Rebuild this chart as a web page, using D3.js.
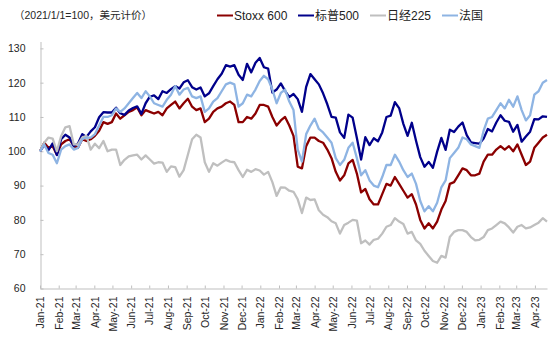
<!DOCTYPE html>
<html>
<head>
<meta charset="utf-8">
<script src="https://cdn.jsdelivr.net/npm/d3@7"></script>
<style>
  body { margin: 0; background: #fff; }
  text { font-family: "Liberation Sans", Arial, "Noto Sans CJK SC", sans-serif; }
</style>
</head>
<body>
<svg id="chart" width="550" height="340"></svg>
<script>
// Index levels, 2021/1/1 = 100, weekly (Friday) observations in USD terms
const seriesNames = ["Stoxx 600", "标普500", "日经225", "法国"];

const stoxx600 = [100,
  102.5,101.0,101.5,99.0,102.0,103.0,103.5,101.5,101.0,103.5,103.0,103.5,
  104.5,106.0,108.5,108.0,108.5,111.0,109.5,110.5,111.5,112.0,112.8,110.5,
  112.0,111.5,111.0,111.5,110.5,112.5,113.5,114.5,112.5,114.0,115.3,113.0,
  112.0,112.5,108.5,109.5,111.5,112.5,113.0,114.0,114.5,113.5,108.5,108.5,
  110.0,109.5,111.0,113.5,
  113.5,113.0,110.0,107.5,109.0,110.0,107.5,104.5,95.5,95.0,101.5,104.0,
  104.0,103.0,102.5,100.5,98.0,94.0,91.5,93.0,96.5,97.5,93.5,88.0,
  89.0,86.0,84.5,84.5,87.5,90.5,90.0,92.5,90.5,88.5,86.5,87.5,
  84.5,80.0,77.5,79.0,77.5,79.5,83.0,85.5,90.5,91.0,93.0,95.0,
  94.5,93.0,93.0,93.5,
  97.0,99.0,99.0,100.5,101.5,100.5,101.5,100.0,102.0,99.0,96.0,97.0,
  101.0,102.5,104.0,104.8];

const sp500 = [100,
  101.8,100.3,102.3,98.9,103.5,104.8,104.0,101.5,102.3,105.0,104.2,105.8,
  107.0,109.9,111.4,111.3,111.3,112.7,111.1,110.6,111.9,112.6,113.1,110.9,
  114.0,115.9,116.3,115.2,117.5,117.0,118.1,119.0,118.3,120.1,120.7,118.7,
  118.0,118.6,116.0,116.9,119.0,121.0,122.6,125.1,124.7,125.1,122.3,120.8,
  125.5,123.0,125.8,127.2,
  124.5,124.1,117.1,118.0,119.8,117.6,115.8,116.7,115.2,111.5,118.8,122.5,
  121.0,119.5,116.9,113.7,110.0,109.8,105.5,103.9,110.7,109.8,103.9,97.6,
  104.1,101.8,103.8,102.9,105.5,110.0,110.4,114.3,112.6,108.0,104.5,108.3,
  103.1,98.3,95.5,96.9,95.2,99.9,103.9,100.4,106.3,105.6,107.2,108.4,
  104.7,102.6,102.4,102.2,
  103.7,106.5,105.8,108.4,110.5,108.9,108.6,105.7,107.7,102.8,104.3,105.7,
  109.4,109.3,110.2,110.0];

const nikkei225 = [100,
  102.5,104.0,103.7,100.0,104.4,107.0,107.3,102.0,102.0,104.0,104.5,100.5,
  102.2,100.9,103.0,100.0,100.5,100.5,96.0,97.5,98.5,98.8,99.0,97.6,
  98.8,97.6,96.4,96.8,96.7,94.0,95.6,95.4,92.6,94.5,99.0,103.5,
  104.8,104.0,96.8,94.0,96.5,95.8,96.7,97.5,97.0,96.8,94.5,92.5,
  94.6,94.0,94.8,94.4,
  93.2,94.0,91.0,87.0,89.5,89.4,88.5,88.2,86.0,82.0,86.5,85.8,
  86.0,82.8,81.5,80.8,79.6,79.0,76.0,78.5,79.2,80.0,79.8,73.2,
  74.0,72.8,74.2,74.5,76.0,78.0,78.5,80.5,79.5,78.8,76.0,76.5,
  74.0,73.0,71.0,69.5,68.0,67.5,69.5,69.0,75.0,76.5,77.0,77.0,
  76.5,75.0,74.0,74.2,
  75.0,77.0,77.5,78.5,79.5,79.0,77.8,76.3,78.0,78.5,77.5,77.8,
  78.5,79.2,80.5,79.5];

const france = [100,
  102.0,99.5,99.0,96.5,100.5,101.5,102.0,100.5,101.0,103.5,104.0,104.0,
  105.0,107.5,110.0,110.0,110.5,112.5,111.5,112.5,114.0,115.5,117.0,115.5,
  117.5,116.0,114.0,113.5,113.0,115.0,116.5,119.0,116.5,118.0,118.5,116.0,
  115.5,116.0,111.5,112.5,114.5,115.5,117.5,119.5,120.0,119.5,113.0,114.0,
  116.5,116.0,118.0,120.5,
  122.0,121.0,118.0,114.0,117.0,118.0,114.5,112.0,100.5,97.0,105.0,107.5,
  109.5,106.5,105.5,104.0,102.5,98.0,96.0,97.5,101.0,102.5,98.0,93.0,
  94.5,91.5,90.0,89.5,92.5,96.0,96.0,99.0,97.0,94.5,92.5,93.5,
  90.5,85.5,82.5,84.0,82.5,85.0,89.5,91.5,98.0,99.5,101.0,104.0,
  103.5,102.0,101.5,101.0,
  106.0,109.5,110.0,112.0,114.0,112.5,115.0,113.0,116.0,112.0,109.0,110.5,
  116.5,117.5,120.0,120.8];

const seriesValues = [stoxx600, sp500, nikkei225, france];

// Month tick labels along the date axis
const monthLabels = ["Jan-21","Feb-21","Mar-21","Apr-21","May-21","Jun-21","Jul-21",
  "Aug-21","Sep-21","Oct-21","Nov-21","Dec-21","Jan-22","Feb-22","Mar-22","Apr-22",
  "May-22","Jun-22","Jul-22","Aug-22","Sep-22","Oct-22","Nov-22","Dec-22","Jan-23",
  "Feb-23","Mar-23","Apr-23"];
const yTicks = [60, 70, 80, 90, 100, 110, 120, 130];
const titleText = "（2021/1/1=100，美元计价）";

// Weekly observation dates (Fridays) and month starts
const weekDates = d3.timeFriday.range(new Date(2021, 0, 1), new Date(2023, 3, 22));
const monthDates = d3.timeMonth.range(new Date(2021, 0, 1), new Date(2023, 3, 2));

const colors = ["#8B0000", "#00008B", "#BFBFBF", "#8EB4E3"];
const svg = d3.select("#chart");
svg.append("rect").attr("width", 550).attr("height", 340).attr("fill", "#fff");

const x = d3.scaleTime()
  .domain([new Date(2021, 0, 1), new Date(2023, 3, 21)])
  .range([40, 547]);
const y = d3.scaleLinear().domain([60, 132]).range([288.5, 41.5]);

// Y axis
const yAxis = d3.axisLeft(y).tickValues(yTicks).tickSizeInner(-3).tickSizeOuter(0).tickPadding(15);
const gy = svg.append("g").attr("transform", "translate(40.5,0)").call(yAxis);
gy.select(".domain").attr("stroke", "#BFBFBF");
gy.selectAll(".tick line").attr("stroke", "#BFBFBF");
gy.selectAll(".tick text").attr("fill", "#262626").style("font-size", "10.5px")
  .style("font-family", '"Liberation Sans", Arial, sans-serif');

// X axis with rotated month labels
const xAxis = d3.axisBottom(x).tickValues(monthDates).tickSizeInner(-3).tickSizeOuter(0)
  .tickFormat((d, i) => monthLabels[i]);
const gx = svg.append("g").attr("transform", "translate(0,288.5)").call(xAxis);
gx.select(".domain").attr("stroke", "#BFBFBF");
gx.selectAll(".tick line").attr("stroke", "#BFBFBF");
gx.selectAll(".tick text")
  .attr("transform", "rotate(-90)")
  .attr("x", -8).attr("y", 0).attr("dy", "0.35em")
  .style("text-anchor", "end")
  .attr("fill", "#262626").style("font-size", "10.5px")
  .style("font-family", '"Liberation Sans", Arial, sans-serif');

// Series lines
const line = d3.line().x((d, i) => x(weekDates[i])).y(d => y(d));
svg.append("g").selectAll("path")
  .data(seriesValues)
  .join("path")
  .attr("d", d => line(d))
  .attr("fill", "none")
  .attr("stroke", (d, i) => colors[i])
  .attr("stroke-width", 2.3)
  .attr("stroke-linejoin", "round");

// Unit note
svg.append("text").attr("x", 14).attr("y", 19).text(titleText)
  .attr("fill", "#262626").style("font-size", "10.5px");

// Legend
const legendX = [217, 298, 370, 442];
const lg = svg.append("g").selectAll("g").data(seriesNames).join("g")
  .attr("transform", (d, i) => `translate(${legendX[i]},15.5)`);
lg.append("line").attr("x1", 0).attr("x2", 16).attr("y1", 0).attr("y2", 0)
  .attr("stroke", (d, i) => colors[i]).attr("stroke-width", 2);
lg.append("text").attr("x", 17).attr("y", 0).attr("dy", "0.36em")
  .text(d => d).attr("fill", "#222").style("font-size", "12px");
</script>
</body>
</html>
